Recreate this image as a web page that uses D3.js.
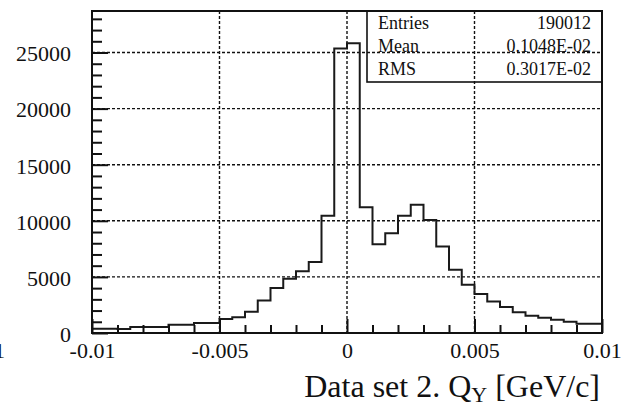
<!DOCTYPE html>
<html>
<head>
<meta charset="utf-8">
<script src="https://cdn.jsdelivr.net/npm/d3@7/dist/d3.min.js"></script>
<style>
  html, body { margin: 0; padding: 0; background: #fff; }
  svg { display: block; }
  text { font-family: "Liberation Serif", "Times New Roman", serif; fill: #111; }
</style>
</head>
<body>
<svg id="chart" width="621" height="408"></svg>
<script>
// Histogram of Q_Y, 40 bins of 0.0005 GeV/c from -0.01 to 0.01
const binLow = [
  -0.0100, -0.0095, -0.0090, -0.0085, -0.0080, -0.0075, -0.0070, -0.0065,
  -0.0060, -0.0055, -0.0050, -0.0045, -0.0040, -0.0035, -0.0030, -0.0025,
  -0.0020, -0.0015, -0.0010, -0.0005,  0.0000,  0.0005,  0.0010,  0.0015,
   0.0020,  0.0025,  0.0030,  0.0035,  0.0040,  0.0045,  0.0050,  0.0055,
   0.0060,  0.0065,  0.0070,  0.0075,  0.0080,  0.0085,  0.0090,  0.0095
];
const binWidth = 0.0005;
const counts = [
    380,   370,   360,   530,   530,   540,   730,   740,
    890,   890,  1250,  1400,  1900,  2900,  4000,  4830,
   5500,  6330, 10460, 25350, 25830, 11210,  7920,  8900,
  10460, 11440, 10080,  7700,  5630,  4300,  3470,  2810,
   2310,  1840,  1540,  1360,  1180,  1000,   830,   830
];

const xMajorTicks = [-0.01, -0.005, 0, 0.005, 0.01];
const xTickLabels = ["-0.01", "-0.005", "0", "0.005", "0.01"];
const xMinorTicks = [-0.009, -0.008, -0.007, -0.006, -0.004, -0.003, -0.002, -0.001,
                      0.001, 0.002, 0.003, 0.004, 0.006, 0.007, 0.008, 0.009];
const yMajorTicks = [0, 5000, 10000, 15000, 20000, 25000];
const yMinorTicks = [1000, 2000, 3000, 4000, 6000, 7000, 8000, 9000, 11000, 12000, 13000,
                     14000, 16000, 17000, 18000, 19000, 21000, 22000, 23000, 24000,
                     26000, 27000, 28000];
const xGrid = [-0.005, 0, 0.005];
const yGrid = [5000, 10000, 15000, 20000, 25000];

const statNames = ["Entries", "Mean", "RMS"];
const statValues = ["190012", "0.1048E-02", "0.3017E-02"];

const frame = { left: 92, right: 602, top: 11, bottom: 333 };
const yMax = 28700;

const svg = d3.select("#chart");
const x = d3.scaleLinear().domain([-0.01, 0.01]).range([frame.left, frame.right]);
const y = d3.scaleLinear().domain([0, yMax]).range([frame.bottom, frame.top]);

// dashed grid
const grid = svg.append("g").attr("stroke", "#111").attr("stroke-width", 1.4)
  .attr("stroke-dasharray", "3,2");
grid.selectAll("line.vx").data(xGrid).join("line")
  .attr("x1", d => x(d)).attr("x2", d => x(d))
  .attr("y1", frame.top).attr("y2", frame.bottom);
grid.selectAll("line.hy").data(yGrid).join("line")
  .attr("x1", frame.left).attr("x2", frame.right)
  .attr("y1", d => y(d)).attr("y2", d => y(d));

// histogram outline
let path = d3.path();
counts.forEach((c, i) => {
  const x0 = x(binLow[i]), x1 = x(binLow[i] + binWidth), yy = y(c);
  if (i === 0) path.moveTo(x0, yy); else path.lineTo(x0, yy);
  path.lineTo(x1, yy);
});
svg.append("path").attr("d", path.toString())
  .attr("fill", "none").attr("stroke", "#1a1a1a").attr("stroke-width", 2);

// axes with inward ticks
const fontSize = 22;
const xAxisMajor = d3.axisBottom(x).tickValues(xMajorTicks).tickSize(-14)
  .tickPadding(9).tickFormat((d, i) => xTickLabels[i]);
const xAxisMinor = d3.axisBottom(x).tickValues(xMinorTicks).tickSize(-8).tickFormat("");
const yAxisMajor = d3.axisLeft(y).tickValues(yMajorTicks).tickSize(-16)
  .tickPadding(21).tickFormat(d3.format("d"));
const yAxisMinor = d3.axisLeft(y).tickValues(yMinorTicks).tickSize(-10).tickFormat("");

function styleAxis(g) {
  g.select(".domain").remove();
  g.selectAll(".tick line").attr("stroke", "#111").attr("stroke-width", 2);
  g.selectAll(".tick text")
    .style("font-family", '"Liberation Serif", "Times New Roman", serif')
    .style("font-size", fontSize + "px").attr("fill", "#111");
}
svg.append("g").attr("transform", `translate(0,${frame.bottom})`).call(xAxisMinor).call(styleAxis);
svg.append("g").attr("transform", `translate(0,${frame.bottom})`).call(xAxisMajor).call(styleAxis)
  .selectAll(".tick text").attr("dy", "0.71em");
svg.append("g").attr("transform", `translate(${frame.left},0)`).call(yAxisMinor).call(styleAxis);
svg.append("g").attr("transform", `translate(${frame.left},0)`).call(yAxisMajor).call(styleAxis)
  .selectAll(".tick text").attr("dy", "0.38em");

// frame
svg.append("rect")
  .attr("x", frame.left).attr("y", frame.top)
  .attr("width", frame.right - frame.left).attr("height", frame.bottom - frame.top)
  .attr("fill", "none").attr("stroke", "#111").attr("stroke-width", 2);

// statistics box
const box = { left: 367, right: frame.right, top: frame.top, bottom: 82 };
svg.append("rect")
  .attr("x", box.left).attr("y", box.top)
  .attr("width", box.right - box.left).attr("height", box.bottom - box.top)
  .attr("fill", "none").attr("stroke", "#111").attr("stroke-width", 1.6);
const statBaselines = [29, 52, 75];
const stats = svg.append("g").style("font-size", "18px");
stats.selectAll("text.name").data(statNames).join("text")
  .attr("x", 378).attr("y", (d, i) => statBaselines[i]).text(d => d);
stats.selectAll("text.val").data(statValues).join("text")
  .attr("x", 591).attr("y", (d, i) => statBaselines[i])
  .attr("text-anchor", "end").text(d => d);

// x-axis title
const title = svg.append("text")
  .attr("x", 600).attr("y", 397).attr("text-anchor", "end")
  .style("font-size", "32px");
title.append("tspan").text("Data set 2. Q");
title.append("tspan").attr("dy", 5).style("font-size", "22px").text("Y");
title.append("tspan").attr("dy", -5).text(" [GeV/c]");

// edge of the neighbouring panel's axis label
svg.append("text").attr("x", 5).attr("y", 358).attr("text-anchor", "end")
  .style("font-size", fontSize + "px").text("0.01");
</script>
</body>
</html>
